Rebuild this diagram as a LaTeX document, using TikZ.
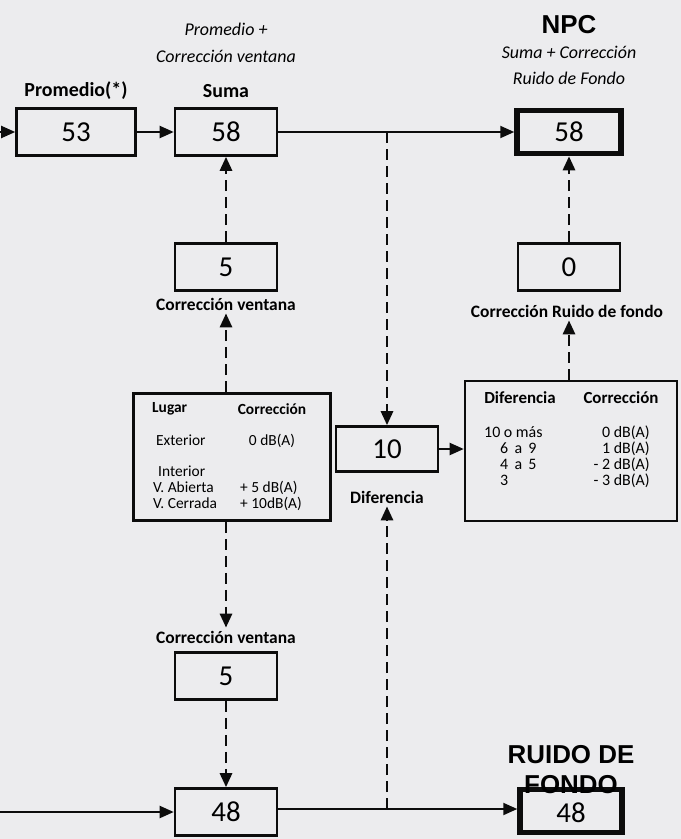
\documentclass[tikz,border=0pt]{standalone}
\usepackage{fontspec}
\setmainfont{Carlito}
\newfontfamily\arialfont{Liberation Sans}
\usepackage{xcolor}
\definecolor{Paper}{RGB}{236,236,238}
\definecolor{Ink}{RGB}{12,12,12}
\usetikzlibrary{arrows.meta}
\tikzstyle{Box}=[draw=Ink,line width=2.6bp,minimum width=102bp,minimum height=47bp,
inner sep=0pt,font=\fontsize{29}{32}\selectfont]
\tikzstyle{BoxThick}=[Box,line width=5.5bp]
\tikzstyle{Tab}=[draw=Ink,line width=2.6bp,inner sep=0pt]
\tikzstyle{Edge}=[draw=Ink,line width=2bp,-{Triangle[length=14bp,width=12bp]}]
\tikzstyle{DashEdge}=[Edge,line width=2.8bp,dash pattern=on 11bp off 6bp]
\tikzstyle{Title}=[font=\bfseries\fontsize{20}{23}\selectfont]
\tikzstyle{Label}=[inner sep=3bp,font=\bfseries\fontsize{17.5}{20}\selectfont]
\tikzstyle{Note}=[font=\itshape\fontsize{18}{21}\selectfont]
\tikzstyle{Big}=[inner sep=0pt,font=\arialfont\bfseries\fontsize{26}{30}\selectfont]
\tikzstyle{TabHead}=[inner sep=0pt,font=\bfseries\fontsize{15.5}{18}\selectfont]
\tikzstyle{TabCell}=[inner sep=0pt,text height=10bp,text depth=2bp,
font=\fontsize{15.5}{18}\selectfont]
\tikzstyle{TabHeadB}=[inner sep=0pt,font=\bfseries\fontsize{17}{20}\selectfont]
\tikzstyle{TabCellB}=[inner sep=0pt,text height=10bp,text depth=2bp,
font=\fontsize{16}{18}\selectfont]

\begin{document}
\begin{tikzpicture}[x=1bp,y=-1bp]
        \fill[Paper](0,0)rectangle(681,839);
        \useasboundingbox(0,0)rectangle(681,839);
        % boxes
        \node[Box,minimum width=119bp](Prom)at(76,132){53};
        \node[Box](Suma)at(226,132){58};
        \node[BoxThick,minimum width=104bp,minimum height=43bp](NPC)at(569,132){58};
        \node[Box](CorrV)at(226,267){5};
        \node[Box](CorrRF)at(569,267){0};
        \node[Tab,minimum width=197bp,minimum height=127bp](TabLugar)at(232,457){};
        \node[Box,minimum width=102bp,minimum height=45bp](Dif)at(387,449){10};
        \node[Tab,minimum width=212bp,minimum height=140bp](TabDif)at(571,451){};
        \node[Box](CorrVb)at(226,676){5};
        \node[Box](Fondo)at(226,812){48};
        \node[BoxThick,minimum width=102bp,minimum height=43bp,text height=23bp,
        text depth=0pt](RF)at(571,811){48};
        % labels
        \node[Note](nProm)at(226,29){Promedio +};
        \node[Note](nCorr)at(226,56){Corrección ventana};
        \node[Title](lProm)at(76,91){Promedio(*)};
        \node[Title](lSuma)at(226,91){Suma};
        \node[Big](lNPC)at(569,25){NPC};
        \node[Note](nSuma)at(569,52){Suma + Corrección};
        \node[Note](nRuido)at(569,78){Ruido de Fondo};
        \node[Label](lCorrV)at(226,304){Corrección ventana};
        \node[Label](lCorrRF)at(567,311){Corrección Ruido de fondo};
        \node[Label](lDif)at(387,497){Diferencia};
        \node[Label](lCorrVb)at(226,637){Corrección ventana};
        \node[Big,align=center](lRF)at(571,770){RUIDO DE\\FONDO};
        % table Lugar
        \node[TabHead,anchor=west](hLugar)at(152,409){Lugar};
        \node[TabHead](hCorrA)at(272,409){Corrección};
        \node[TabCell,anchor=west](cExt)at(156,441){Exterior};
        \node[TabCell](vExt)at(272,441){0 dB(A)};
        \node[TabCell,anchor=west](cInt)at(158,472){Interior};
        \node[TabCell,anchor=west](cAb)at(153,488){V. Abierta};
        \node[TabCell,anchor=west](vAb)at(240,488){+ 5 dB(A)};
        \node[TabCell,anchor=west](cCe)at(153,504){V. Cerrada};
        \node[TabCell,anchor=west](vCe)at(240,504){+ 10dB(A)};
        % table Diferencia
        \node[TabHeadB](hDif)at(520,398){Diferencia};
        \node[TabHeadB](hCorrB)at(621,398){Corrección};
        \node[TabCellB,anchor=west](d1)at(484,433){10 o más};
        \node[TabCellB,anchor=west](d2)at(500,449){6 \,a\, 9};
        \node[TabCellB,anchor=west](d3)at(500,465){4 \,a\, 5};
        \node[TabCellB,anchor=west](d4)at(500,481){3};
        \node[TabCellB,anchor=east](k1)at(650,433){0 dB(A)};
        \node[TabCellB,anchor=east](k2)at(650,449){1 dB(A)};
        \node[TabCellB,anchor=east](k3)at(650,465){- 2 dB(A)};
        \node[TabCellB,anchor=east](k4)at(650,481){- 3 dB(A)};
        % connectors
        \coordinate(In1)at(0,132);
        \coordinate(In2)at(0,812);
        \coordinate(J1)at(387,132);
        \coordinate(J2)at(387,809);
        \draw[Edge](In1)--(Prom);
        \draw[Edge](Prom)--(Suma);
        \draw[Edge](Suma)--(NPC);
        \draw[DashEdge](CorrV)--(Suma);
        \draw[DashEdge](CorrRF)--(NPC);
        \draw[DashEdge](TabLugar.north-|CorrV)--(lCorrV);
        \draw[DashEdge](TabDif.north-|CorrRF)--(lCorrRF.south-|CorrRF);
        \draw[DashEdge](J1)--(Dif);
        \draw[DashEdge](J2)--(lDif);
        \draw[Edge](Dif)--(Dif-|TabDif.west);
        \draw[DashEdge](TabLugar.south-|CorrVb)--(lCorrVb);
        \draw[DashEdge](CorrVb)--(Fondo);
        \draw[Edge](In2)--(Fondo);
        \draw[Edge](Fondo.east|-J2)--(J2-|RF.west);
\end{tikzpicture}
\end{document}
